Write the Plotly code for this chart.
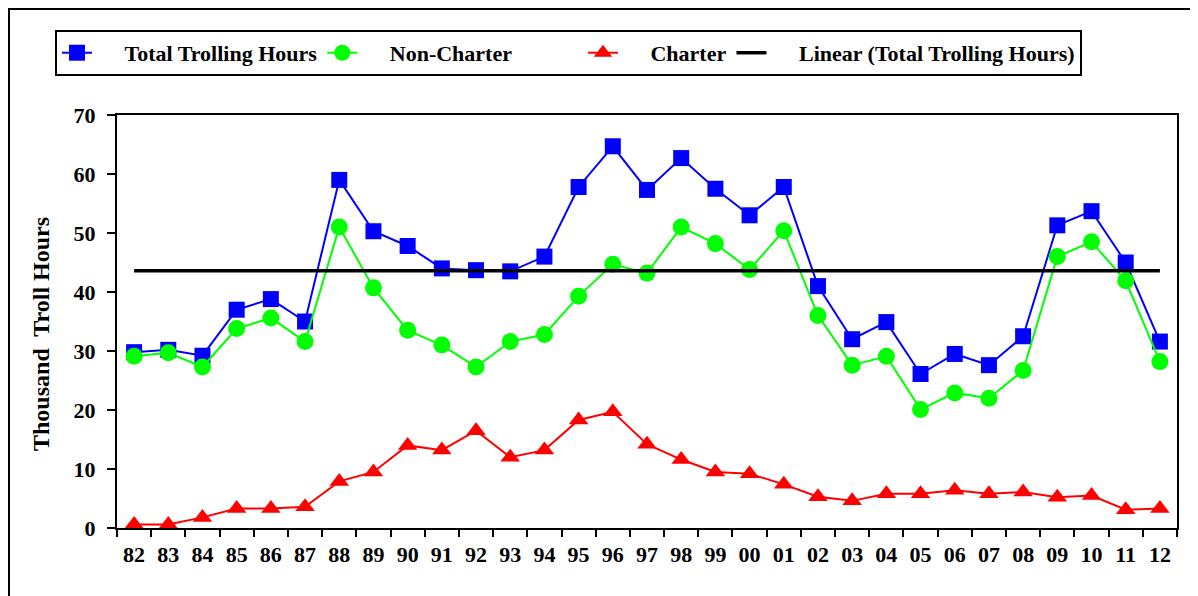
import plotly.graph_objects as go

# 年份标签（两位）
years = ["82", "83", "84", "85", "86", "87", "88", "89", "90", "91",
         "92", "93", "94", "95", "96", "97", "98", "99", "00", "01",
         "02", "03", "04", "05", "06", "07", "08", "09", "10", "11", "12"]

total_hours = [29.8, 30.2, 29.2, 37.0, 38.8, 35.0, 59.0, 50.3, 47.8, 44.0,
               43.7, 43.5, 46.0, 57.8, 64.7, 57.3, 62.7, 57.5, 53.0, 57.8,
               41.0, 32.0, 34.9, 26.1, 29.5, 27.6, 32.5, 51.3, 53.7, 45.0, 31.6]

non_charter = [29.1, 29.7, 27.3, 33.8, 35.6, 31.6, 51.0, 40.7, 33.5, 31.0,
               27.3, 31.6, 32.8, 39.3, 44.7, 43.2, 51.0, 48.2, 43.8, 50.4,
               36.0, 27.6, 29.1, 20.1, 22.9, 22.0, 26.7, 46.0, 48.5, 41.9, 28.2]

charter = [0.6, 0.6, 1.8, 3.3, 3.3, 3.6, 7.9, 9.5, 14.0, 13.2,
           16.5, 12.0, 13.2, 18.3, 19.7, 14.2, 11.6, 9.5, 9.2, 7.4,
           5.3, 4.6, 5.8, 5.8, 6.4, 5.8, 6.1, 5.2, 5.5, 3.1, 3.3]

# 趋势线端点
trend_years = ["82", "12"]
trend_values = [43.6, 43.6]

FONT = "Liberation Serif, Times New Roman, serif"
NB = "\u00a0"


def label(text, tail=0):
    # 图例文字前后补空格，模拟原图较长的图例符号和间距
    return NB * 5 + text + NB * tail


fig = go.Figure()
fig.add_scatter(x=years, y=total_hours, mode="lines+markers", name=label("Total Trolling Hours"),
                line=dict(color="#0000FF", width=2),
                marker=dict(symbol="square", size=16, color="#0000FF"))
fig.add_scatter(x=years, y=non_charter, mode="lines+markers", name=label("Non-Charter", 12),
                line=dict(color="#00FF00", width=2),
                marker=dict(symbol="circle", size=17, color="#00FF00"))
fig.add_scatter(x=years, y=charter, mode="lines+markers", name=label("Charter"),
                line=dict(color="#FF0000", width=2),
                marker=dict(symbol="triangle-up", size=17, color="#FF0000"))
fig.add_scatter(x=trend_years, y=trend_values, mode="lines", name=label("Linear (Total Trolling Hours)"),
                line=dict(color="#000000", width=3.5))

fig.update_layout(
    width=1198, height=596,
    margin=dict(l=109, r=29, t=107, b=76),
    paper_bgcolor="white", plot_bgcolor="white",
    font=dict(family=FONT, size=22, color="black", weight="bold"),
    showlegend=True,
    legend=dict(
        orientation="h", x=-0.0585, y=1.206, xanchor="left", yanchor="top",
        bordercolor="black", borderwidth=2, bgcolor="white",
        font=dict(family=FONT, size=22, weight="bold"),
        traceorder="normal", itemwidth=30,
    ),
    shapes=[dict(type="rect", xref="paper", yref="paper",
                 x0=-0.1019, x1=1.3, y0=-0.5, y1=1.2567,
                 line=dict(color="black", width=2), layer="below")],
    annotations=[dict(text="Thousand  Troll Hours", textangle=-90, showarrow=False,
                      xref="paper", yref="paper", x=-0.0717, y=0.4697,
                      xanchor="center", yanchor="middle",
                      font=dict(family=FONT, size=24, weight="bold"))],
)
fig.update_xaxes(
    type="category", range=[-0.5, 30.5], automargin=False,
    showline=True, linecolor="black", linewidth=2, mirror=True,
    ticks="outside", tickson="boundaries", ticklen=7, tickcolor="black", tickwidth=2,
    ticklabelstandoff=6,
    showgrid=False, zeroline=False, tickfont=dict(family=FONT, size=22, weight="bold"),
)
fig.update_yaxes(
    range=[0, 70], dtick=10, automargin=False,
    showline=True, linecolor="black", linewidth=2, mirror=True,
    ticks="outside", ticklen=8, tickcolor="black", tickwidth=2,
    ticklabelstandoff=7,
    showgrid=False, zeroline=False, tickfont=dict(family=FONT, size=22, weight="bold"),
)

fig.write_html("out.html")
